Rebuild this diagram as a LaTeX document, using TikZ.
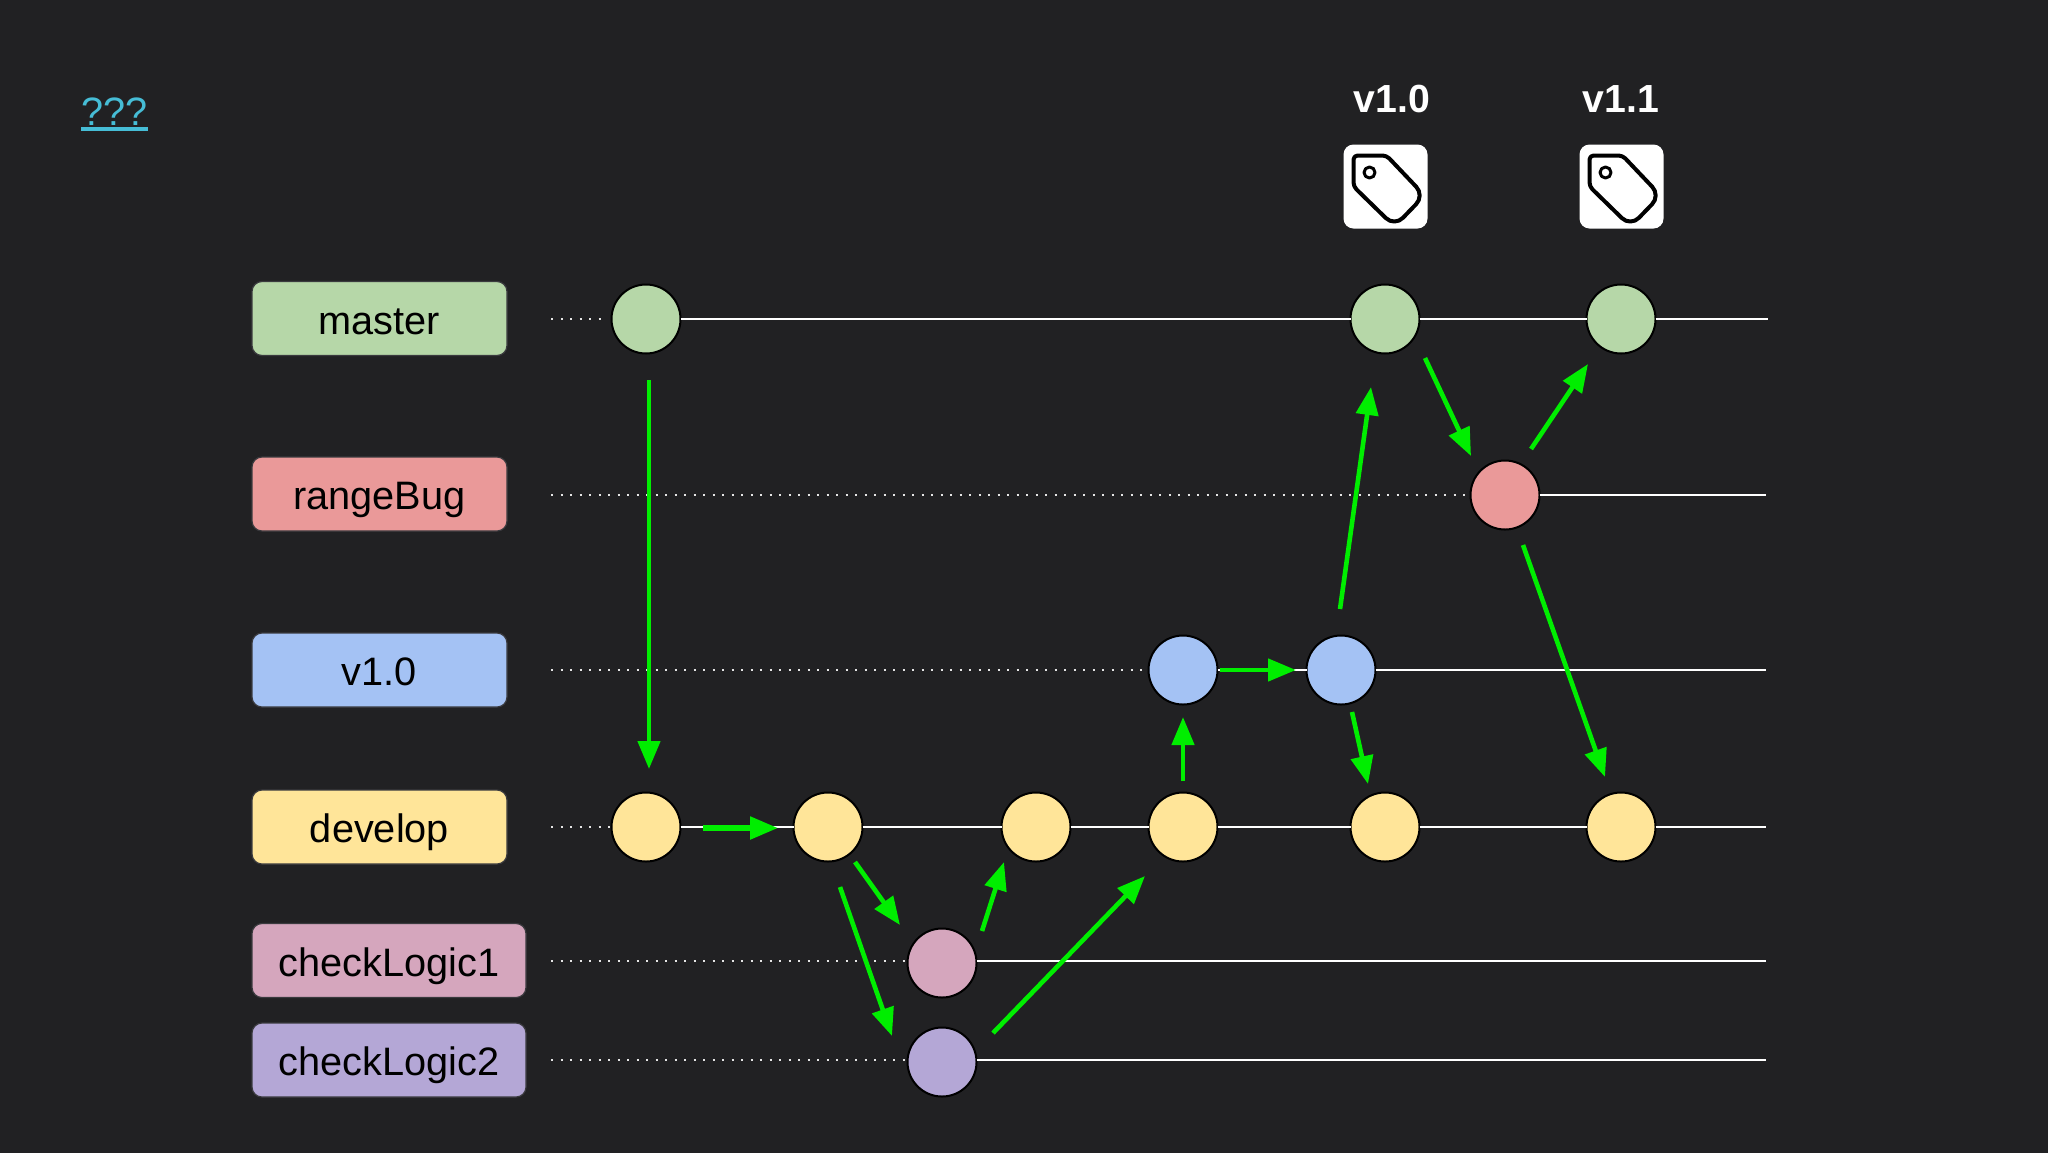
\documentclass[tikz,border=0pt]{standalone}
\usepackage{fontspec}
\setmainfont{Liberation Sans}
\usetikzlibrary{arrows.meta}
\definecolor{bgc}{HTML}{212123}
\definecolor{flowc}{HTML}{00EE00}
\definecolor{linkc}{HTML}{46BDD6}
\definecolor{mastc}{HTML}{B6D7A8}
\definecolor{bugc}{HTML}{EA9999}
\definecolor{relc}{HTML}{A4C2F4}
\definecolor{devc}{HTML}{FFE599}
\definecolor{loga}{HTML}{D5A6BD}
\definecolor{logb}{HTML}{B4A7D6}
\definecolor{edgec}{HTML}{3A3A3E}
\tikzset{
  branchlabel/.style={draw=edgec,line width=0.6pt,rounded corners=5pt,inner sep=0pt,outer sep=0pt,
    minimum height=37pt,minimum width=127.5pt,text=black,
    font=\fontsize{19.85pt}{22pt}\selectfont,text height=19.5pt,text depth=4pt,align=center},
  widelabel/.style={branchlabel,minimum width=137pt},
  commit/.style={circle,draw=black,line width=1pt,minimum size=34.5pt,inner sep=0pt,outer sep=0pt},
  flow/.style={draw=flowc,line width=2.3pt,-{Triangle[length=14pt,width=11pt]}},
  trunk/.style={draw=white,line width=1.3pt},
  dots/.style={draw=white!90!black,line width=1.1pt,dash pattern=on 1.1pt off 3.65pt},
  tagbox/.style={fill=white,rounded corners=5pt,minimum size=42pt,inner sep=0pt,outer sep=0pt},
  tagtext/.style={text=white,anchor=base,inner sep=0pt,font=\fontsize{19.6pt}{22pt}\selectfont\bfseries},
  tagline/.style={draw=black,line width=2pt,line join=round},
}
\newcommand{\tagicon}[1]{%
  \draw[tagline,shift={(#1.center)}]
    (-32,-31) [rounded corners=2pt] -- (1,-31) [rounded corners=6pt] -- (39,9) -- (9,40) [rounded corners=2pt] -- (-32,-0) -- cycle;
  \draw[tagline,line width=1.5pt,shift={(#1.center)}] (-16,-14) circle (5.5);
}
\begin{document}
\begin{tikzpicture}[x=0.5pt,y=-0.5pt]
\useasboundingbox (0,0) rectangle (2048,1152);
\fill[bgc] (-10,-10) rectangle (2058,1162);

% link-like text
\node[anchor=base,inner sep=0pt,text=linkc,font=\fontsize{19.8pt}{22pt}\selectfont] (qq) at (114.5,125) {???};
\draw[linkc,line width=2pt] ([yshift=-2pt]qq.base -| qq.west) -- ([yshift=-2pt]qq.base -| qq.east);

% branch labels
\node[branchlabel,fill=mastc] (lmaster) at (379.5,318.5) {master};
\node[branchlabel,fill=bugc]  (lbug)    at (379.5,494) {rangeBug};
\node[branchlabel,fill=relc]  (lrel)    at (379.5,670) {v1.0};
\node[branchlabel,fill=devc]  (ldev)    at (379.5,827) {develop};
\node[widelabel,fill=loga]    (lca)     at (389,960.5) {checkLogic1};
\node[widelabel,fill=logb]    (lcb)     at (389,1060) {checkLogic2};

% commits
\node[commit,fill=mastc] (m1) at (646,319) {};
\node[commit,fill=mastc] (m2) at (1385,319) {};
\node[commit,fill=mastc] (m3) at (1621,319) {};
\node[commit,fill=bugc]  (r)  at (1505,495) {};
\node[commit,fill=relc]  (v1) at (1183,670) {};
\node[commit,fill=relc]  (v2) at (1341,670) {};
\node[commit,fill=devc]  (d1) at (646,827) {};
\node[commit,fill=devc]  (d2) at (828,827) {};
\node[commit,fill=devc]  (d3) at (1036,827) {};
\node[commit,fill=devc]  (d4) at (1183,827) {};
\node[commit,fill=devc]  (d5) at (1385,827) {};
\node[commit,fill=devc]  (d6) at (1621,827) {};
\node[commit,fill=loga]  (c1) at (942,963) {};
\node[commit,fill=logb]  (c2) at (942,1062) {};

% row ends
\coordinate (sm) at (551,319); \coordinate (em) at (1768,319);
\coordinate (sr) at (551,495); \coordinate (er) at (1766,495);
\coordinate (sv) at (551,670); \coordinate (ev) at (1766,670);
\coordinate (sd) at (551,827); \coordinate (ed) at (1766,827);
\coordinate (sa) at (551,961); \coordinate (ea) at (1766,961);
\coordinate (sb) at (551,1060); \coordinate (eb) at (1766,1060);

% dotted lead-ins
\draw[dots] (sm) -- ([xshift=-2pt]m1.west);
\draw[dots] (sr) -- ([xshift=-1pt]r.west);
\draw[dots] (sv) -- ([xshift=-1pt]v1.west);
\draw[dots] (sd) -- (d1.west);
\draw[dots] (sa) -- ([xshift=-1pt]sa -| c1.west);
\draw[dots] (sb) -- ([xshift=-1pt]sb -| c2.west);

% solid branch lines
\draw[trunk] (m1.east) -- (m2.west);
\draw[trunk] (m2.east) -- (m3.west);
\draw[trunk] (m3.east) -- (em);
\draw[trunk] (r.east) -- (er);
\draw[trunk] (v1.east) -- (v2.west);
\draw[trunk] (v2.east) -- (ev);
\draw[trunk] (d1.east) -- (d2.west);
\draw[trunk] (d2.east) -- (d3.west);
\draw[trunk] (d3.east) -- (d4.west);
\draw[trunk] (d4.east) -- (d5.west);
\draw[trunk] (d5.east) -- (d6.west);
\draw[trunk] (d6.east) -- (ed);
\draw[trunk] (sa -| c1.east) -- (ea);
\draw[trunk] (sb -| c2.east) -- (eb);

% green flow arrows
\draw[flow] ([shift={(3,61)}]m1.center) -- ([shift={(3,-58)}]d1.center);
\draw[flow,line width=2.7pt] ([shift={(57,1)}]d1.center) -- ([shift={(-50,1)}]d2.center);
\draw[flow] ([shift={(27,35)}]d2.center) -- ([shift={(-42,-38)}]c1.center);
\draw[flow] ([shift={(12,60)}]d2.center) -- ([shift={(-50,-26)}]c2.center);
\draw[flow] ([shift={(40,-32)}]c1.center) -- ([shift={(-32,35)}]d3.center);
\draw[flow] ([shift={(51,-29)}]c2.center) -- ([shift={(-38,49)}]d4.center);
\draw[flow] ([shift={(0,-46)}]d4.center) -- ([shift={(0,47)}]v1.center);
\draw[flow] ([shift={(37,0)}]v1.center) -- ([shift={(-45,0)}]v2.center);
\draw[flow] ([shift={(-1,-61)}]v2.center) -- ([shift={(-14,68)}]m2.center);
\draw[flow] ([shift={(11,42)}]v2.center) -- ([shift={(-17,-43)}]d5.center);
\draw[flow] ([shift={(40,39)}]m2.center) -- ([shift={(-34,-39)}]r.center);
\draw[flow] ([shift={(26,-46)}]r.center) -- ([shift={(-33,45)}]m3.center);
\draw[flow] ([shift={(18,50)}]r.center) -- ([shift={(-16,-50)}]d6.center);

% release tags
\node[tagtext] (ta) at (1392,112) {v1.0};
\node[tagtext] (tb) at (1621,112) {v1.1};
\node[tagbox] (tag1) at (1385.5,186.5) {};
\node[tagbox] (tag2) at (1621.5,186.5) {};
\tagicon{tag1}
\tagicon{tag2}
\end{tikzpicture}
\end{document}
